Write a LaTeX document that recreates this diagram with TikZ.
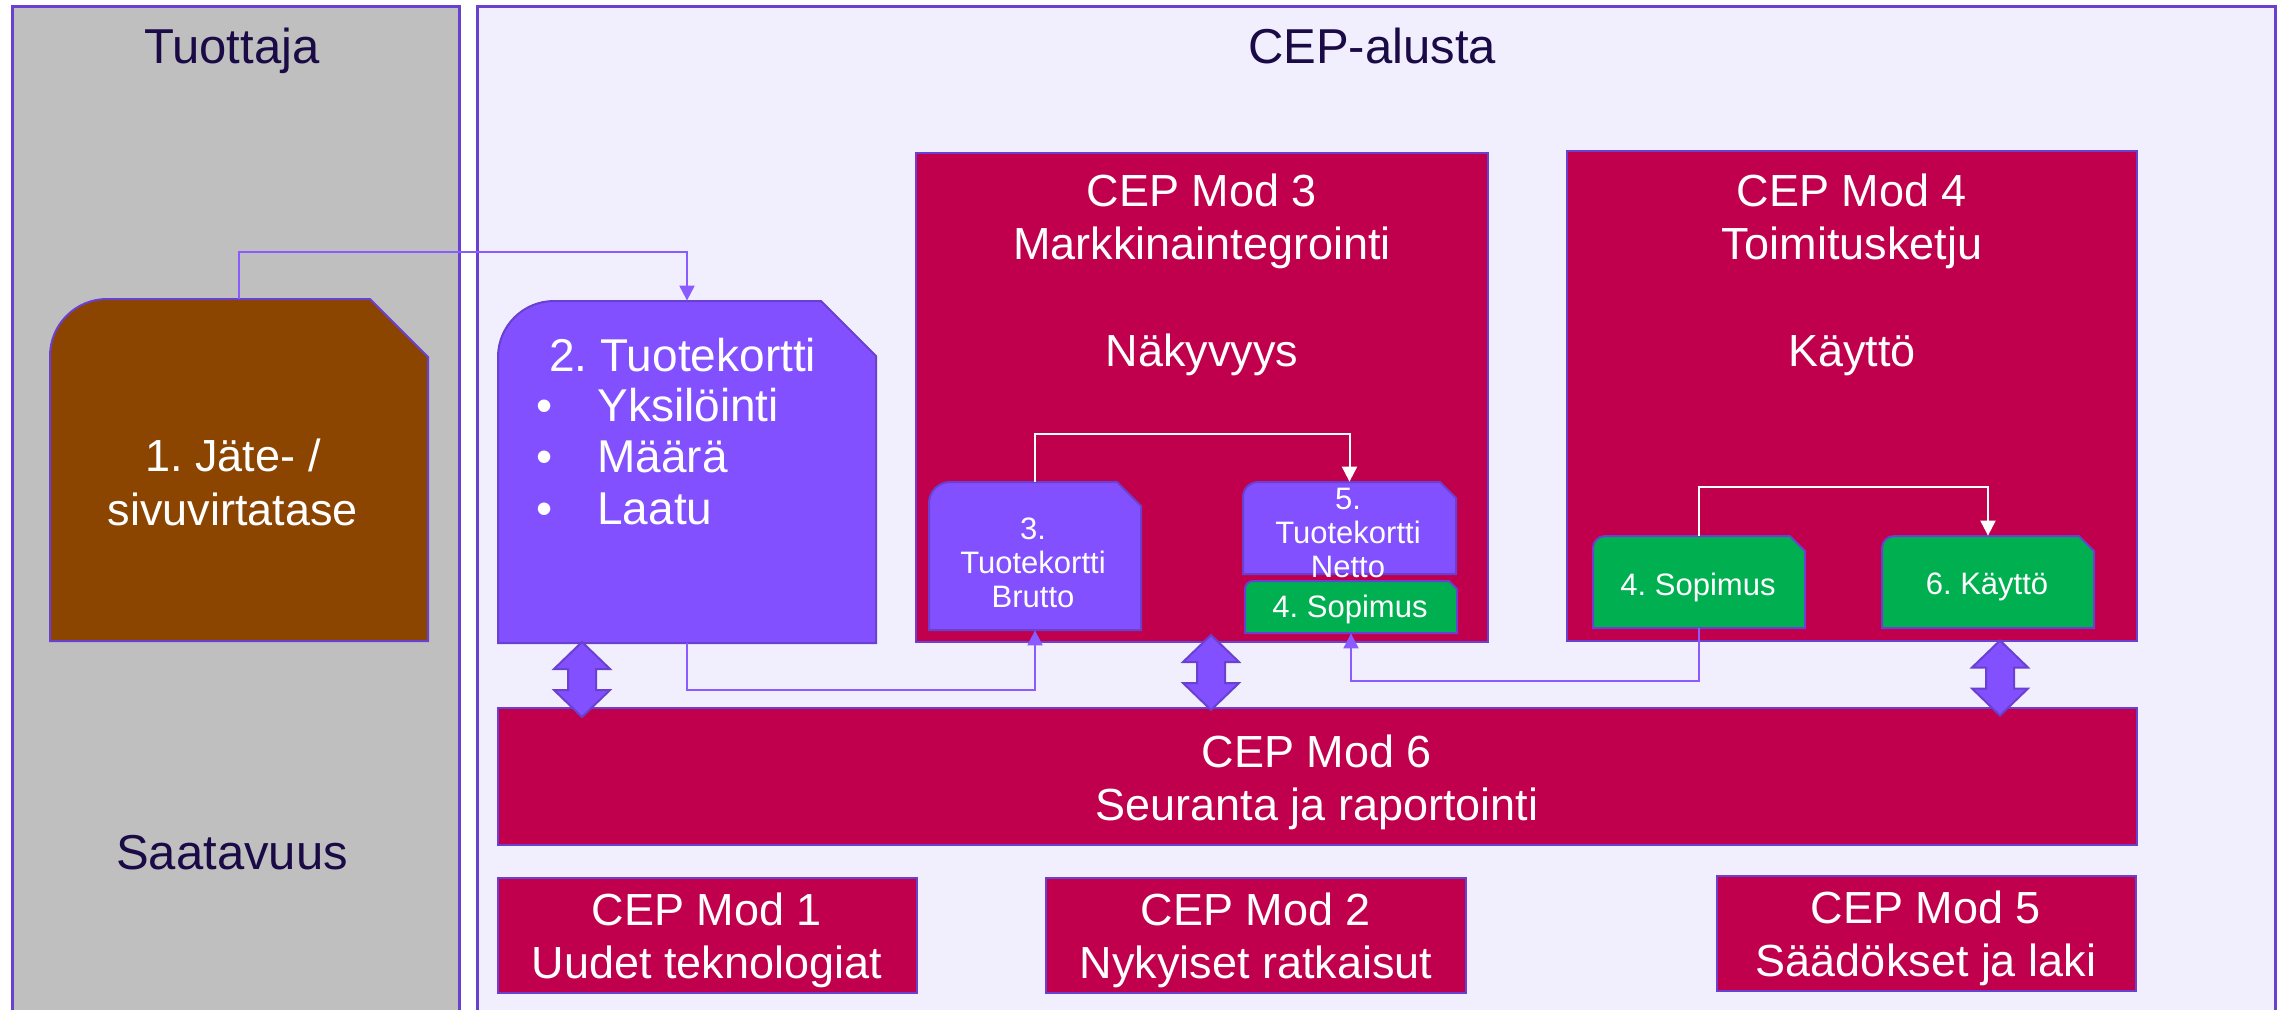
\documentclass[tikz,border=0pt]{standalone}
\usepackage{fontspec}
\setmainfont{Liberation Sans}
\usetikzlibrary{fit,arrows.meta}
\frenchspacing
\definecolor{grayp}{HTML}{BFBFBF}
\definecolor{lav}{HTML}{F1EFFD}
\definecolor{bord}{HTML}{6A40D0}
\definecolor{brownb}{HTML}{8B4500}
\definecolor{purp}{HTML}{8250FF}
\definecolor{crim}{HTML}{C0004C}
\definecolor{greenb}{HTML}{00B050}
\definecolor{navy}{HTML}{1A0A45}
\definecolor{lineP}{HTML}{8A5CFF}
% #1 name, #2 x1, #3 y1, #4 x2, #5 y2, #6 corner radius, #7 chamfer, #8 style
\newcommand\mycard[8]{%
  \draw[#8] (#2,#5) -- (#2,{#3+#6}) .. controls (#2,{#3+0.448*#6}) and ({#2+0.448*#6},#3) .. ({#2+#6},#3)
     -- ({#4-#7},#3) -- (#4,{#3+#7}) -- (#4,#5) -- cycle;
  \node[fit={(#2,#3)(#4,#5)}, inner sep=0pt] (#1) {};}
\newcommand\mydblarrow[1]{%
  \draw[dbl] (#1) ++(0,-37.5) -- ++(28,27) -- ++(-14,0) -- ++(0,21) -- ++(14,0) -- ++(-28,27)
     -- ++(-28,-27) -- ++(14,0) -- ++(0,-21) -- ++(-14,0) -- cycle;}
\begin{document}
\frenchspacing
\begin{tikzpicture}[x=0.5pt,y=-0.5pt,
  panelg/.style={draw=bord, line width=1.5pt, fill=grayp, inner sep=0pt},
  panell/.style={draw=bord, line width=1.5pt, fill=lav, inner sep=0pt},
  modbox/.style={draw=bord, line width=1pt, fill=crim, inner sep=0pt},
  bigtext/.style={text=white, align=center, inner sep=0pt, font=\fontsize{22.5}{26.5}\selectfont},
  head/.style={text=navy, inner sep=0pt, anchor=base, font=\fontsize{24.5}{28}\selectfont},
  smalltext/.style={text=white, align=center, inner sep=0pt, font=\fontsize{15.5}{17}\selectfont},
  cardbrown/.style={draw=bord, line width=1pt, fill=brownb},
  cardpurple/.style={draw=bord, line width=1pt, fill=purp},
  cardgreen/.style={draw=bord, line width=1pt, fill=greenb},
  conn/.style={draw=lineP, line width=1pt, -{Triangle[length=7.5pt,width=7.5pt]}},
  wconn/.style={draw=white, line width=1pt, -{Triangle[length=7.5pt,width=7.5pt]}},
  dbl/.style={draw=bord, line width=1pt, fill=purp, line join=miter}
]
\useasboundingbox[fill=white] (0,0) rectangle (2277,1009);

% panels
\node[panelg, fit={(12,6)(459,1040)}] (ptuot) {};
\node[panell, fit={(477,6)(2275,1040)}] (pcep) {};
\node[head] (htuot) at (232,63) {Tuottaja};
\node[head] (hcep) at (1372,63) {CEP-alusta};
\node[head] (hsaat) at (232,869) {Saatavuus};

% module boxes
\node[modbox, fit={(916,153)(1488,642)}] (m3) {};
\node[modbox, fit={(1567,151)(2137,641)}] (m4) {};
\node[bigtext, anchor=north] (m3t) at (1202,173) {CEP Mod 3\\Markkinaintegrointi\\[27pt]Näkyvyys};
\node[bigtext, anchor=north] (m4t) at (1852,173) {CEP Mod 4\\Toimitusketju\\[27pt]Käyttö};

\node[modbox, fit={(498,708)(2137,845)}] (m6) {};
\node[bigtext] (m6t) at (1317,782) {CEP Mod 6\\Seuranta ja raportointi};
\node[modbox, fit={(498,878)(917,993)}] (m1) {};
\node[bigtext] (m1t) at (707,940) {CEP Mod 1\\Uudet teknologiat};
\node[modbox, fit={(1046,878)(1466,993)}] (m2) {};
\node[bigtext] (m2t) at (1256,940) {CEP Mod 2\\Nykyiset ratkaisut};
\node[modbox, fit={(1717,876)(2136,991)}] (m5) {};
\node[bigtext] (m5t) at (1926,938) {CEP Mod 5\\Säädökset ja laki};

% cards
\mycard{b1}{50}{299}{428}{641}{57}{58}{cardbrown}
\node[bigtext, font=\fontsize{22.5}{27}\selectfont] (b1t) at (233,482) {1. Jäte- /\\sivuvirtatase};

\mycard{b2}{498}{301}{876}{643}{56}{55}{cardpurple}
\node[text=white, inner sep=0pt, anchor=base west, font=\fontsize{23}{26}\selectfont] (b2t) at (549,371) {2. Tuotekortti};
\foreach \yy/\tt [count=\i] in {421/Yksilöinti, 472/Määrä, 524/Laatu}{
  \node[text=white, inner sep=0pt, anchor=base west, font=\fontsize{23}{26}\selectfont] (b2b\i) at (536,\yy) {\textbullet};
  \node[text=white, inner sep=0pt, anchor=base west, font=\fontsize{23}{26}\selectfont] (b2i\i) at (597,\yy) {\tt};
}

\mycard{b3}{929}{482}{1141}{630}{21}{24}{cardpurple}
\node[smalltext] (b3t) at (1033,563) {3.\\Tuotekortti\\Brutto};
\mycard{b5}{1243}{482}{1456}{574}{15}{16}{cardpurple}
\node[smalltext] (b5t) at (1348,533) {5.\\Tuotekortti\\Netto};
\mycard{b4a}{1245}{581}{1457}{633}{8}{8}{cardgreen}
\node[smalltext] (b4at) at (1350,609) {4. Sopimus};
\mycard{b4b}{1593}{536}{1805}{628}{12}{15}{cardgreen}
\node[smalltext] (b4bt) at (1698,587) {4. Sopimus};
\mycard{b6}{1882}{536}{2094}{628}{12}{15}{cardgreen}
\node[smalltext] (b6t) at (1987,587) {6. Käyttö};

% connectors
\draw[conn] (b1.north) -- ++(0,-47) -| (b2.north);
\draw[conn] (b2.south) -- ++(0,47) -| (b3.south);
\draw[wconn] (b3.north) -- ++(0,-48) -| (b5.north);
\draw[wconn] (b4b.north) -- ++(0,-49) -| (b6.north);
\draw[conn] (b4b.south) -- ++(0,53) -| (b4a.south);

% double arrows
\coordinate (da1) at (582,679.5);
\coordinate (da2) at (1211,672.5);
\coordinate (da3) at (2000,678);
\mydblarrow{da1}
\mydblarrow{da2}
\mydblarrow{da3}
\end{tikzpicture}
\end{document}
